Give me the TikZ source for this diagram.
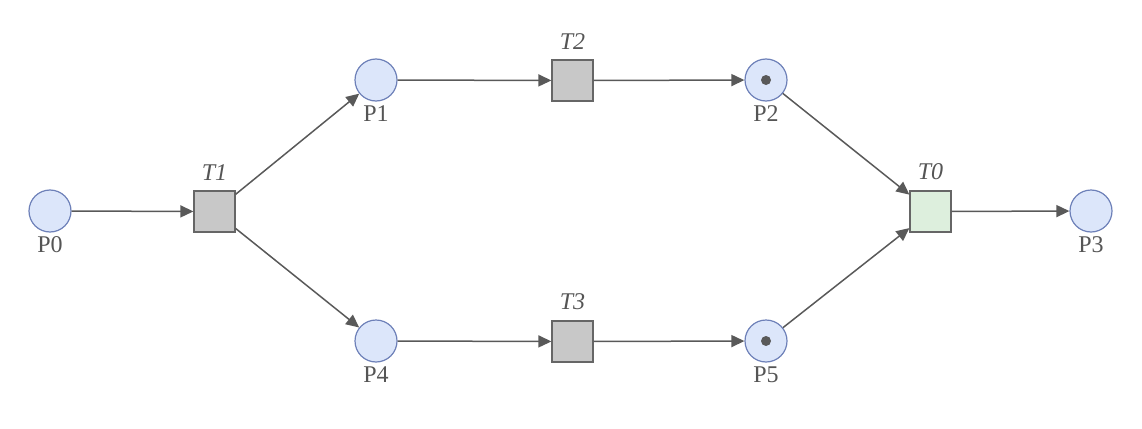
\documentclass[tikz,border=0pt]{standalone}
\usepackage{fontspec}
\setmainfont{Liberation Serif}
\usetikzlibrary{arrows.meta}
\definecolor{placefill}{HTML}{DCE6FA}
\definecolor{placedraw}{HTML}{6D80B8}
\definecolor{transfill}{HTML}{C8C8C8}
\definecolor{transdraw}{HTML}{666666}
\definecolor{greenfill}{HTML}{DDEFDD}
\definecolor{arccol}{HTML}{595959}
\definecolor{textcol}{HTML}{555555}
\begin{document}
\begin{tikzpicture}[x=1pt,y=-1pt,
  place/.style={circle,draw=placedraw,fill=placefill,line width=1.2pt,minimum size=42pt,inner sep=0pt,
     label={[text=textcol,font=\fontsize{24}{24}\selectfont,inner sep=0pt,label distance=4pt]below:#1}},
  trans/.style={rectangle,draw=transdraw,fill=transfill,line width=1.2pt,minimum size=41pt,inner sep=0pt,
     label={[text=textcol,font=\fontsize{24}{24}\selectfont\itshape,inner sep=0pt,label distance=10pt]above:#1}},
  arc/.style={draw=arccol,line width=1.5pt,-{Triangle[length=13pt,width=12pt]}},
  token/.style={circle,fill=arccol,minimum size=10pt,inner sep=0pt}]
\useasboundingbox (0,0) rectangle (1142,428);
\node[place=P0] (P0) at (50,211) {};
\node[trans=T1] (T1) at (214.5,211.5) {};
\node[place=P1] (P1) at (376,80) {};
\node[trans=T2] (T2) at (572.5,80.5) {};
\node[place=P2] (P2) at (766,80) {};
\node[token] (k2) at (P2) {};
\node[trans=T0,fill=greenfill] (T0) at (930.5,211.5) {};
\node[place=P3] (P3) at (1091,211) {};
\node[place=P4] (P4) at (376,341) {};
\node[trans=T3] (T3) at (572.5,341.5) {};
\node[place=P5] (P5) at (766,341) {};
\node[token] (k5) at (P5) {};
\draw[arc] (P0) -- (T1);
\draw[arc] (T1) -- (P1);
\draw[arc] (T1) -- (P4);
\draw[arc] (P1) -- (T2);
\draw[arc] (T2) -- (P2);
\draw[arc] (P4) -- (T3);
\draw[arc] (T3) -- (P5);
\draw[arc] (P2) -- (T0);
\draw[arc] (P5) -- (T0);
\draw[arc] (T0) -- (P3);
\end{tikzpicture}
\end{document}
